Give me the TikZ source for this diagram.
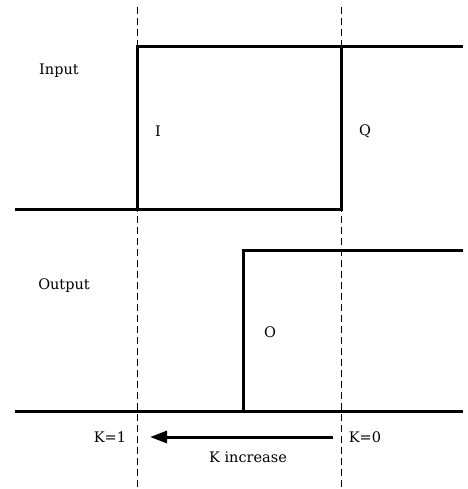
\documentclass[tikz,border=0pt]{standalone}
\usepackage{fontspec}
\setmainfont{DejaVu Serif}
\usetikzlibrary{arrows.meta}
\tikzset{
  wave/.style={line width=3pt, line join=miter},
  guide/.style={line width=0.9pt, dash pattern=on 7pt off 4pt},
  lbl/.style={inner sep=0pt, font=\fontsize{14.5}{17}\selectfont},
  karrow/.style={line width=3pt, -{Triangle[length=17pt,width=12pt]}}
}
\begin{document}
\begin{tikzpicture}[x=1pt,y=-1pt]
\useasboundingbox (0,0) rectangle (467,489);
% guide lines
\coordinate (g1t) at (137,7);
\coordinate (g1b) at (137,489);
\coordinate (g2t) at (341,7);
\coordinate (g2b) at (341,489);
\draw[guide] (g1t) -- (g1b);
\draw[guide] (g2t) -- (g2b);
% input waveform
\coordinate (i0) at (15,209);
\coordinate (i1) at (137,209);
\coordinate (i2) at (137,47);
\coordinate (i3) at (463,47);
\coordinate (i4) at (341,47);
\coordinate (i5) at (341,209);
\draw[wave] (i0) -- (i1) -- (i2) -- (i3);
\draw[wave] (i4) -- (i5) -- (i1);
% output waveform
\coordinate (o0) at (15,411);
\coordinate (o1) at (243,411);
\coordinate (o2) at (243,250);
\coordinate (o3) at (463,250);
\coordinate (o4) at (463,411);
\draw[wave] (o0) -- (o1) -- (o2) -- (o3);
\draw[wave] (o1) -- (o4);
% labels
\node[lbl] (input) at (59,71) {Input};
\node[lbl] (li) at (158,131) {I};
\node[lbl] (lq) at (365,131) {Q};
\node[lbl] (output) at (64,286) {Output};
\node[lbl] (lo) at (270,332) {O};
\node[lbl] (k1) at (110,437) {K=1};
\node[lbl] (k0) at (365,437) {K=0};
\node[lbl] (kinc) at (248,457) {K increase};
% arrow
\coordinate (as) at (333,437);
\coordinate (ae) at (150,437);
\draw[karrow] (as) -- (ae);
\end{tikzpicture}
\end{document}
